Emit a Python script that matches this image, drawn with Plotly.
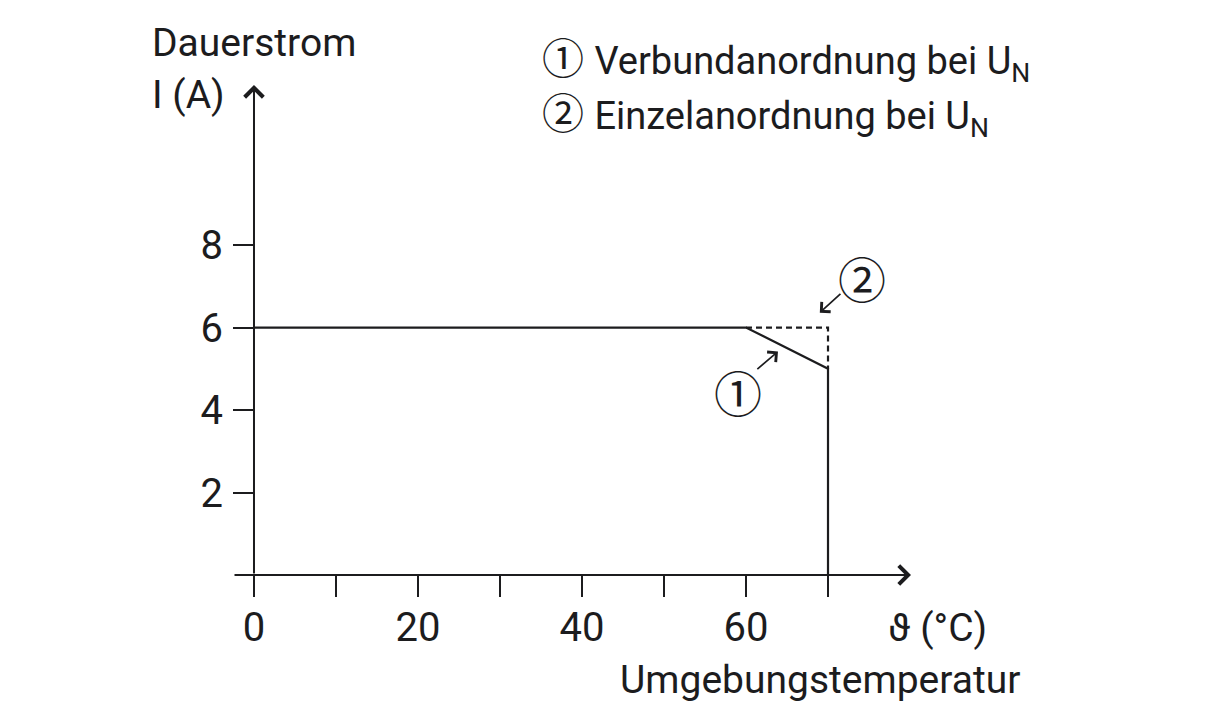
import plotly.graph_objects as go

# ---- data ----
temp_verbund = [0, 60, 70, 70]
current_verbund = [6, 6, 5, 0]
temp_einzel = [60, 70, 70]
current_einzel = [6, 6, 5]
x_tick_vals = [0, 10, 20, 30, 40, 50, 60, 70]
x_tick_text = ["0", "", "20", "", "40", "", "60", ""]
y_tick_vals = [2, 4, 6, 8]
y_tick_text = ["2", "4", "6", "8"]
x_axis_start, x_axis_end = -2.56, 80.12
y_axis_end = 11.88
legend_marks = ["①", "②"]
legend_texts = ["Verbundanordnung bei U<sub>N</sub>",
                "Einzelanordnung bei U<sub>N</sub>"]

W, H = 1214, 720
L, R, T, B = 233, 303, 85, 145
PW, PH = W - L - R, H - T - B
INK = "#1c1c1e"
FONT = "Roboto, Liberation Sans, sans-serif"
CJK = "Noto Sans CJK JP"


def px(p):
    return (p - L) / PW


def py(p):
    return (H - B - p) / PH


fig = go.Figure()
fig.add_trace(go.Scatter(x=temp_verbund, y=current_verbund, mode="lines",
                         line=dict(color=INK, width=2.2), cliponaxis=False,
                         showlegend=False, hoverinfo="skip"))
fig.add_trace(go.Scatter(x=temp_einzel, y=current_einzel, mode="lines",
                         line=dict(color=INK, width=2.2, dash="6px,4px"),
                         cliponaxis=False, showlegend=False, hoverinfo="skip"))

ann = []
# axis lines with arrowheads
ann.append(dict(x=x_axis_end, y=0, ax=x_axis_start, ay=0, xref="x", yref="y",
                axref="x", ayref="y", text="", showarrow=True, arrowhead=4,
                arrowsize=1.8, arrowwidth=2, arrowcolor=INK, standoff=0))
ann.append(dict(x=0, y=y_axis_end, ax=0, ay=0, xref="x", yref="y",
                axref="x", ayref="y", text="", showarrow=True, arrowhead=4,
                arrowsize=1.8, arrowwidth=2, arrowcolor=INK, standoff=0))
# small pointer arrows
ann.append(dict(x=63.9, y=5.42, ax=61.2, ay=4.96, xref="x", yref="y",
                axref="x", ayref="y", text="", showarrow=True, arrowhead=4,
                arrowsize=1.5, arrowwidth=1.7, arrowcolor=INK, standoff=0))
ann.append(dict(x=69.0, y=6.36, ax=71.7, ay=6.85, xref="x", yref="y",
                axref="x", ayref="y", text="", showarrow=True, arrowhead=4,
                arrowsize=1.5, arrowwidth=1.7, arrowcolor=INK, standoff=0))
# circled labels in chart
ann.append(dict(x=px(738), y=py(391), xref="paper", yref="paper", text=legend_marks[0],
                showarrow=False, font=dict(family=CJK, size=48, color=INK),
                xanchor="center", yanchor="middle"))
ann.append(dict(x=px(862), y=py(277), xref="paper", yref="paper", text=legend_marks[1],
                showarrow=False, font=dict(family=CJK, size=48, color=INK),
                xanchor="center", yanchor="middle"))
# titles
ann.append(dict(x=px(150), y=py(43), xref="paper", yref="paper", text="Dauerstrom",
                showarrow=False, font=dict(family=FONT, size=39, color=INK),
                xanchor="left", yanchor="middle"))
ann.append(dict(x=px(150), y=py(95), xref="paper", yref="paper", text="I (A)",
                showarrow=False, font=dict(family=FONT, size=39, color=INK),
                xanchor="left", yanchor="middle"))
ann.append(dict(x=px(886), y=py(628), xref="paper", yref="paper", text="ϑ (°C)",
                showarrow=False, font=dict(family=FONT, size=39, color=INK),
                xanchor="left", yanchor="middle"))
ann.append(dict(x=px(618), y=py(680), xref="paper", yref="paper",
                text="Umgebungstemperatur",
                showarrow=False, font=dict(family=FONT, size=39, color=INK),
                xanchor="left", yanchor="middle"))
# legend block (one text, two lines)
legend_html = "<br>".join(
    f"<span style='font-family:{CJK};font-size:42px'>{m}</span> "
    f"<span style='font-size:38px'>{t}</span>"
    for m, t in zip(legend_marks, legend_texts))
ann.append(dict(x=px(540), y=py(84), xref="paper", yref="paper",
                text=legend_html, showarrow=False, align="left",
                font=dict(family=FONT, size=42, color=INK),
                xanchor="left", yanchor="middle"))

fig.update_layout(
    width=W, height=H,
    margin=dict(l=L, r=R, t=T, b=B, pad=0),
    paper_bgcolor="white", plot_bgcolor="white",
    annotations=ann,
    xaxis=dict(range=[x_axis_start, x_axis_end], showgrid=False, zeroline=False,
               showline=False, tickmode="array", tickvals=x_tick_vals,
               ticktext=x_tick_text, ticks="outside", ticklen=21, tickwidth=2,
               tickcolor=INK, tickfont=dict(family=FONT, size=40, color=INK),
               ticklabelstandoff=-4, fixedrange=True),
    yaxis=dict(range=[0, y_axis_end], showgrid=False, zeroline=False,
               showline=False, anchor="free", position=px(254),
               tickmode="array", tickvals=y_tick_vals, ticktext=y_tick_text,
               ticks="outside", ticklen=21, tickwidth=2, tickcolor=INK,
               tickfont=dict(family=FONT, size=40, color=INK),
               ticklabelstandoff=2, fixedrange=True),
    showlegend=False,
)

fig.write_html("out.html")
